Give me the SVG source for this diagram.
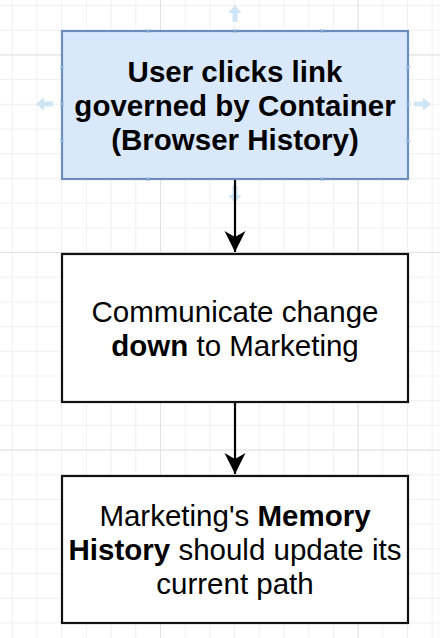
<svg xmlns="http://www.w3.org/2000/svg" width="440" height="638" viewBox="0 0 440 638">
  <style>
    .box { fill: #ffffff; stroke: #111111; stroke-width: 2.2; }
    .sel { fill: #dae8fc; stroke: #6c8ebf; stroke-width: 2.2; }
    .t { font-family: "Liberation Sans", Arial, Helvetica, sans-serif; font-size: 29.5px; fill: #000000; text-anchor: middle; }
    .b { font-weight: bold; }
    .edge { stroke: #000000; stroke-width: 2.2; fill: none; }
    .hint { fill: #cfe5f6; }
    .pt { stroke: #8fb6df; stroke-width: 1.2; }
  </style>
  <defs>
    <pattern id="minor" patternUnits="userSpaceOnUse" x="11.8" y="5" width="24.7" height="24.7">
      <path d="M0 0.5 H24.7 M0.5 0 V24.7" stroke="#f0f0f0" stroke-width="1" fill="none"/>
    </pattern>
    <pattern id="major" patternUnits="userSpaceOnUse" x="160" y="252" width="197.6" height="197.6">
      <path d="M0 0.5 H197.6 M0.5 0 V197.6" stroke="#e2e2e2" stroke-width="1" fill="none"/>
    </pattern>
    <marker id="arrow" viewBox="0 0 22 22" refX="21" refY="11" markerWidth="22" markerHeight="22" markerUnits="userSpaceOnUse" orient="auto">
      <path d="M21 11 L0 0.5 L6 11 L0 21.5 Z" fill="#000000"/>
    </marker>
  </defs>
  <rect x="0" y="0" width="440" height="638" fill="#ffffff"/>
  <rect x="0" y="0" width="440" height="638" fill="url(#minor)"/>
  <rect x="0" y="0" width="440" height="638" fill="url(#major)"/>

  <g id="hover-hints">
    <path class="hint" d="M235 5 L241.5 13 L237.5 13 L237.5 22 L232.5 22 L232.5 13 L228.5 13 Z"/>
    <path class="hint" d="M36 104 L44 97.5 L44 101.5 L53 101.5 L53 106.5 L44 106.5 L44 110.5 Z"/>
    <path class="hint" d="M431 104 L423 97.5 L423 101.5 L414 101.5 L414 106.5 L423 106.5 L423 110.5 Z"/>
    <path class="hint" d="M235 203 L241.5 195 L237.5 195 L237.5 186 L232.5 186 L232.5 195 L228.5 195 Z"/>
  </g>

  <g id="connectors">
    <line class="edge" x1="235" y1="180" x2="235" y2="252" marker-end="url(#arrow)"/>
    <line class="edge" x1="235" y1="403" x2="235" y2="474" marker-end="url(#arrow)"/>
  </g>

  <g id="node-user-clicks">
    <rect class="sel" x="62" y="31" width="346" height="148"/>
    <g class="pt">
      <path d="M146.5 29.5 l3 3 M149.5 29.5 l-3 3 M233.5 29.5 l3 3 M236.5 29.5 l-3 3 M320.5 29.5 l3 3 M323.5 29.5 l-3 3"/>
      <path d="M146.5 177.5 l3 3 M149.5 177.5 l-3 3 M320.5 177.5 l3 3 M323.5 177.5 l-3 3"/>
      <path d="M60.5 65.5 l3 3 M63.5 65.5 l-3 3 M60.5 102.5 l3 3 M63.5 102.5 l-3 3 M60.5 139.5 l3 3 M63.5 139.5 l-3 3"/>
      <path d="M406.5 65.5 l3 3 M409.5 65.5 l-3 3 M406.5 102.5 l3 3 M409.5 102.5 l-3 3 M406.5 139.5 l3 3 M409.5 139.5 l-3 3"/>
    </g>
    <text class="t b" x="235" y="82">User clicks link</text>
    <text class="t b" x="235" y="116">governed by Container</text>
    <text class="t b" x="235" y="150">(Browser History)</text>
  </g>

  <g id="node-communicate">
    <rect class="box" x="62" y="254" width="346" height="148"/>
    <text class="t" x="235" y="322">Communicate change</text>
    <text class="t" x="235" y="356"><tspan class="b">down</tspan> to Marketing</text>
  </g>

  <g id="node-memory-history">
    <rect class="box" x="62" y="476" width="346" height="147"/>
    <text class="t" x="235" y="526">Marketing's <tspan class="b">Memory</tspan></text>
    <text class="t" x="235" y="560"><tspan class="b">History</tspan> should update its</text>
    <text class="t" x="235" y="594">current path</text>
  </g>
</svg>
